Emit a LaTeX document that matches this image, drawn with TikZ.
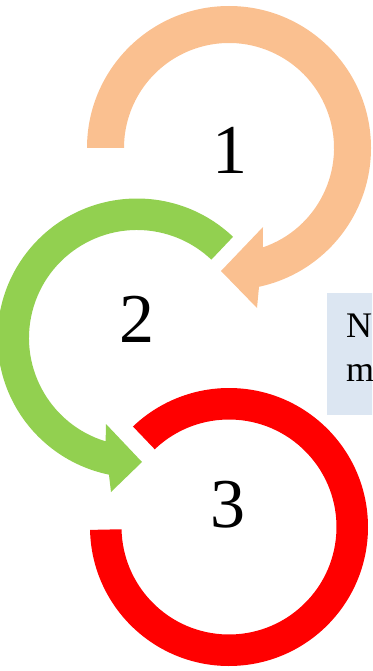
\documentclass[tikz,border=0pt]{standalone}
\usepackage{fontspec}
\setmainfont{Liberation Serif}
\usetikzlibrary{calc}
\definecolor{arcorange}{HTML}{FAC090}
\definecolor{arcgreen}{HTML}{92D050}
\definecolor{arcred}{HTML}{FF0000}
\definecolor{notebox}{HTML}{DCE6F2}
\tikzset{
  numlabel/.style={inner sep=0pt, anchor=base, font=\fontsize{70}{70}\selectfont},
  notetext/.style={inner sep=0pt, anchor=base west, font=\fontsize{36}{40}\selectfont}
}
\begin{document}
\begin{tikzpicture}[x=1pt,y=-1pt]
\useasboundingbox (0,0) rectangle (372,671);
\clip (0,0) rectangle (372,671);
% centres
\coordinate (O) at (229,148);
\coordinate (G) at (137,338);
\coordinate (R) at (229,527);
% orange circular arrow
\fill[arcorange] ($(O)+(180:142)$) arc[start angle=180, end angle=437.8, radius=142]
  -- (257,308) -- (221,271) -- (263,227)
  -- ($(O)+(431.2:105)$) arc[start angle=431.2, end angle=180, radius=105] -- cycle;
% green circular arrow
\fill[arcgreen] ($(G)+(-46.5:139.5)$) arc[start angle=-46.5, end angle=-258.4, radius=139.5]
  -- (111,492) -- (142,462) -- (106,424)
  -- ($(G)+(-253.1:108)$) arc[start angle=-253.1, end angle=-46.5, radius=108] -- cycle;
% red ring
\fill[arcred] ($(R)+(178.8:139)$) arc[start angle=178.8, end angle=-133.7, radius=139]
  -- ($(R)+(-133.7:107.5)$) arc[start angle=-133.7, end angle=178.8, radius=107.5] -- cycle;
% numbers
\node[numlabel] (n1) at (229.5,173) {1};
\node[numlabel] (n2) at (137,342) {2};
\node[numlabel] (n3) at (228,527.5) {3};
% note box
\fill[notebox] (327,293) rectangle (380,415);
\node[notetext] (t1) at (346,337) {N};
\node[notetext] (t2) at (346,381) {m};
\end{tikzpicture}
\end{document}
